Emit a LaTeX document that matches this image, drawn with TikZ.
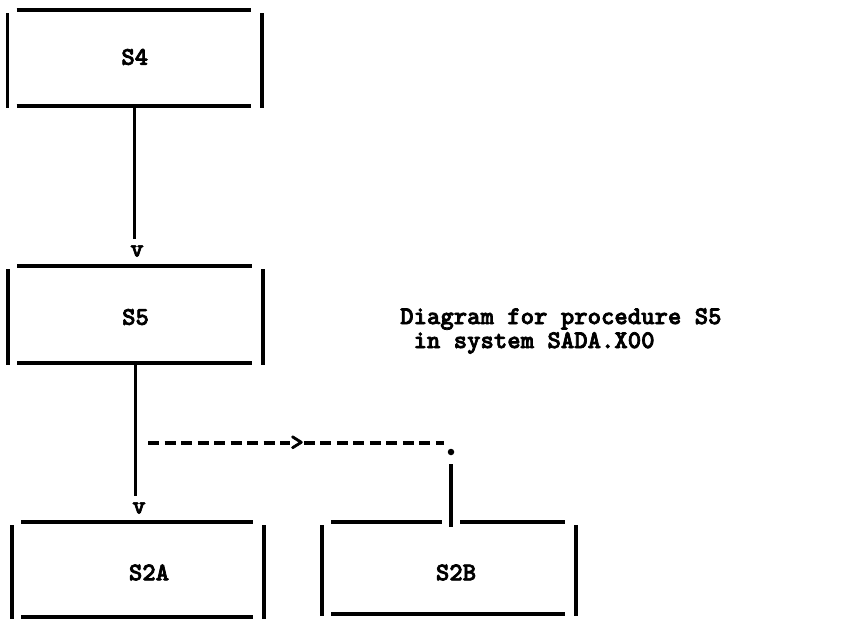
\documentclass[tikz,border=0pt]{standalone}
\usepackage{fontspec}
\newfontfamily\twfont{lmmonolt10-bold}[Extension=.otf, FakeBold=2.8]
\begin{document}
\begin{tikzpicture}[x=1pt,y=-1pt,
  tw/.style={font=\fontsize{25.5}{24}\selectfont\twfont},
  rule/.style={line width=3.2pt},
  dashrule/.style={line width=3.2pt, dash pattern=on 11pt off 5.5pt},
  tbox/.style={inner sep=0pt, outer sep=0pt},
  lbl/.style={tw, inner sep=0pt},
  vtip/.style={tw, fill=white, inner xsep=2pt, inner ysep=1pt}]
\useasboundingbox (0,0) rectangle (845,621);

% boxes
\node[tbox, minimum width=254.5pt, minimum height=96pt,
      label={[lbl, yshift=1pt]center:S4}] (s4) at (134.75,58) {};
\node[tbox, minimum width=255pt, minimum height=97pt,
      label={[lbl, yshift=-2.5pt]center:S5}] (s5) at (135.5,314.5) {};
\node[tbox, minimum width=252pt, minimum height=95pt,
      label={[lbl, xshift=11pt, yshift=-3pt]center:S2A}] (s2a) at (138,569.5) {};
\node[tbox, minimum width=254pt, minimum height=92pt,
      label={[lbl, xshift=7pt, yshift=-4.5pt]center:S2B}] (s2b) at (449,568) {};

\foreach \n in {s4,s5,s2a,s2b}{
  \draw[rule] ([xshift=9pt]\n.north west) -- ([xshift=-11pt]\n.north east);
  \draw[rule] ([xshift=9pt]\n.south west) -- ([xshift=-11pt]\n.south east);
  \draw[rule] ([yshift=-3pt]\n.north west) -- ([yshift=-2pt]\n.south west);
  \draw[rule] ([yshift=-3pt]\n.north east) -- ([yshift=-2pt]\n.south east);
}

% typed arrow heads
\node[vtip] (v1) at (137,251) {v};
\node[vtip] (v2) at (139,508) {v};

% S4 -> S5
\draw[rule] (s4.south -| s4) -- ([yshift=5pt]v1.north -| s4);
% S5 -> S2A
\draw[rule] (s5.south -| s5) -- ([yshift=5pt]v2.north -| s5);

% dashed call S5 -> S2B
\coordinate (dstart) at (148,443);
\node[tw, inner sep=0pt] (gt) at (297,443) {>};
\node[circle, fill, inner sep=0pt, minimum size=6.5pt] (dot) at (451,452) {};
\draw[dashrule] (dstart) -- (gt.west);
\draw[dashrule] (gt.east) -- ([xshift=-4pt]gt.east -| dot.west);
\draw[rule, preaction={draw=white, line width=18pt}]
  ([yshift=-9pt]dot.south) -- ([yshift=-5pt]dot |- s2b.north);

% caption
\node[tw, anchor=north west, inner sep=0pt, align=left] (cap) at (400,308)
  {Diagram for procedure S5\\\hphantom{D}in system SADA.X00};
\end{tikzpicture}
\end{document}
